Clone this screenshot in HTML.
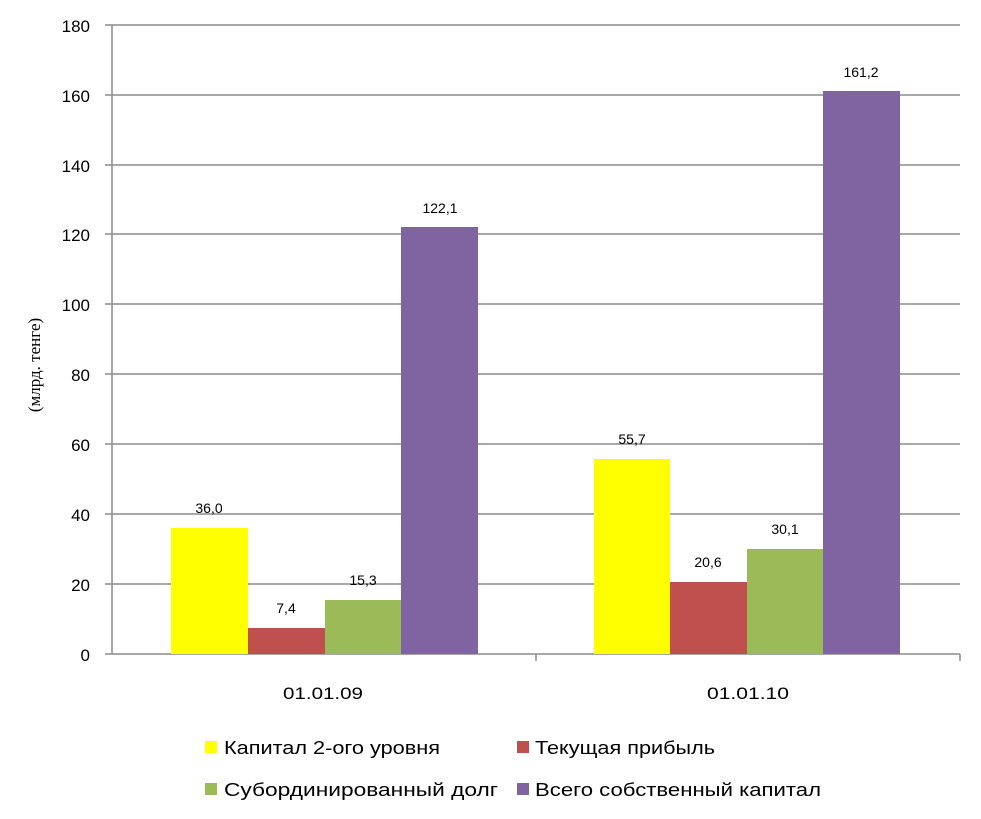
<!DOCTYPE html>
<html><head><meta charset="utf-8"><style>body{margin:0;background:#fff}svg{display:block}</style></head><body>
<svg width="981" height="819" xmlns="http://www.w3.org/2000/svg" font-family="Liberation Sans, DejaVu Sans, sans-serif">
<rect width="981" height="819" fill="#fff"/>
<g stroke="#8c8c8c" stroke-width="1.5">
<line x1="105" y1="25" x2="960" y2="25"/><line x1="105" y1="95" x2="960" y2="95"/><line x1="105" y1="165" x2="960" y2="165"/><line x1="105" y1="234" x2="960" y2="234"/><line x1="105" y1="304" x2="960" y2="304"/><line x1="105" y1="374" x2="960" y2="374"/><line x1="105" y1="444" x2="960" y2="444"/><line x1="105" y1="514" x2="960" y2="514"/><line x1="105" y1="584" x2="960" y2="584"/><line x1="105" y1="654" x2="960" y2="654"/>
<line x1="112" y1="25" x2="112" y2="654"/>
<line x1="536" y1="654" x2="536" y2="661"/><line x1="960" y1="654" x2="960" y2="661"/>
</g>
<g font-size="17" fill="#000" text-anchor="end">
<text x="90" y="32">180</text><text x="90" y="102">160</text><text x="90" y="172">140</text><text x="90" y="241">120</text><text x="90" y="311">100</text><text x="90" y="381">80</text><text x="90" y="451">60</text><text x="90" y="521">40</text><text x="90" y="591">20</text><text x="90" y="661">0</text>
</g>
<text transform="translate(40,365) rotate(-90)" font-family="Liberation Serif, serif" font-size="17" text-anchor="middle">(млрд. тенге)</text>
<rect x="171" y="528" width="77" height="126" fill="#ffff00"/>
<rect x="248" y="628" width="77" height="26" fill="#c0504d"/>
<rect x="325" y="600" width="76" height="54" fill="#9bbb59"/>
<rect x="401" y="227" width="77" height="427" fill="#8064a2"/>
<rect x="594" y="459" width="76" height="195" fill="#ffff00"/>
<rect x="670" y="582" width="77" height="72" fill="#c0504d"/>
<rect x="747" y="549" width="76" height="105" fill="#9bbb59"/>
<rect x="823" y="91" width="77" height="563" fill="#8064a2"/>
<g font-size="14" text-anchor="middle">
<text x="209" y="513">36,0</text><text x="286" y="613">7,4</text><text x="363" y="585">15,3</text><text x="440" y="213">122,1</text>
<text x="632" y="444">55,7</text><text x="708" y="567">20,6</text><text x="785" y="534">30,1</text><text x="861" y="77">161,2</text>
</g>
<g font-size="17"><text x="283" y="699" textLength="80" lengthAdjust="spacingAndGlyphs">01.01.09</text><text x="707" y="699" textLength="82" lengthAdjust="spacingAndGlyphs">01.01.10</text></g>
<g font-size="18">
<rect x="205" y="741" width="12" height="12" fill="#ffff00"/><text x="224" y="754" textLength="216" lengthAdjust="spacingAndGlyphs">Капитал 2-ого уровня</text>
<rect x="517" y="741" width="12" height="12" fill="#c0504d"/><text x="535" y="754" textLength="180" lengthAdjust="spacingAndGlyphs">Текущая прибыль</text>
<rect x="205" y="783" width="12" height="12" fill="#9bbb59"/><text x="224" y="796" textLength="274" lengthAdjust="spacingAndGlyphs">Субординированный долг</text>
<rect x="517" y="783" width="12" height="12" fill="#8064a2"/><text x="535" y="796" textLength="286" lengthAdjust="spacingAndGlyphs">Всего собственный капитал</text>
</g>
</svg>
</body></html>
